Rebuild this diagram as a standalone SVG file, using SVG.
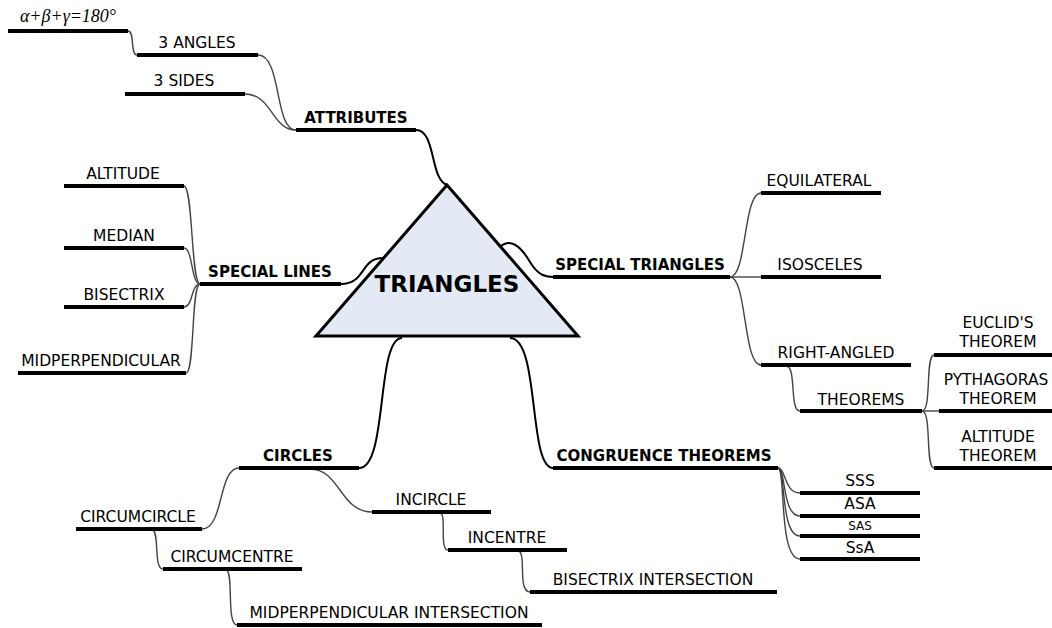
<svg xmlns="http://www.w3.org/2000/svg" width="1052" height="628" viewBox="0 0 1052 628">
<style>
.u{stroke:#000;stroke-width:4;stroke-linecap:butt}
.t{font-family:"DejaVu Sans","Liberation Sans",sans-serif;font-size:15.5px;fill:#000;text-anchor:middle}
.b{font-weight:bold;font-size:15px}
.c{fill:none;stroke:#444;stroke-width:1.4}
.m{fill:none;stroke:#000;stroke-width:2}
</style>
<rect width="1052" height="628" fill="#fff"/>
<g id="connectors">
<path class="c" d="M128,31 C135,31 130,55 137,55"/>
<path class="c" d="M258,55 C282,55 274,130 296,130"/>
<path class="c" d="M245,94 C272,94 272,130 296,130"/>
<path class="m" d="M416,130 C436,130 430,180 447,185"/>
<path class="m" d="M341,284 C366,284 360,258 383,258"/>
<path class="m" d="M500,247 C510,238 520,245 530,262 C538,275 545,277 553,277"/>
<path class="c" d="M200,284 C191,284 193,186 184,186"/>
<path class="c" d="M200,284 C191,284 193,248 184,248"/>
<path class="c" d="M200,284 C191,284 193,307 184,307"/>
<path class="c" d="M200,284 C191,284 195,373 186,373"/>
<path class="c" d="M730,277 C747,277 743,193 761,193"/>
<path class="c" d="M730,277 L761,277"/>
<path class="c" d="M730,277 C747,277 743,365 761,365"/>
<path class="c" d="M786,366 C797,366 789,411 800,411"/>
<path class="c" d="M922,411 C932,411 925,355 934,355"/>
<path class="c" d="M922,411 L939,411"/>
<path class="c" d="M922,411 C932,411 925,468 934,468"/>
<path class="m" d="M510,338 C540,338 528,468 553,468"/>
<path class="c" d="M778,468 C786,468 784,493 800,493"/>
<path class="c" d="M778,468 C786,468 782,516 800,516"/>
<path class="c" d="M778,468 C786,468 780,536 800,536"/>
<path class="c" d="M778,468 C786,468 778,559 800,559"/>
<path class="m" d="M402,338 C376,338 388,468 359,468"/>
<path class="c" d="M239,468 C218,468 224,529 202,529"/>
<path class="c" d="M310,469 C340,469 340,512 372,512"/>
<path class="c" d="M440,513 C447,513 439,550 448,550"/>
<path class="c" d="M518,551 C527,551 517,592 530,592"/>
<path class="c" d="M152,530 C160,530 153,569 163,569"/>
<path class="c" d="M226,570 C234,570 226,625 237,625"/>
</g>
<g id="root">
<polygon points="447,185 316,336 578,336" fill="#e3eaf6" stroke="#000" stroke-width="3" stroke-linejoin="miter"/>
<text class="t" x="447" y="292" style="font-size:23px;font-weight:bold">TRIANGLES</text>
</g>
<g id="angle-sum"><line class="u" x1="8" y1="31" x2="128" y2="31"/><text x="68" y="22" style="font-family:'Liberation Serif',serif;font-style:italic;font-size:18px;text-anchor:middle">α+β+γ=180°</text></g>
<g id="angles"><line class="u" x1="137" y1="55" x2="258" y2="55"/><text class="t" x="197" y="48">3 ANGLES</text></g>
<g id="sides"><line class="u" x1="125" y1="94" x2="245" y2="94"/><text class="t" x="184" y="86">3 SIDES</text></g>
<g id="attributes"><line class="u" x1="296" y1="130" x2="416" y2="130"/><text class="t b" x="356" y="123">ATTRIBUTES</text></g>
<g id="altitude"><line class="u" x1="64" y1="186" x2="184" y2="186"/><text class="t" x="123" y="179">ALTITUDE</text></g>
<g id="median"><line class="u" x1="64" y1="248" x2="184" y2="248"/><text class="t" x="124" y="241">MEDIAN</text></g>
<g id="bisectrix"><line class="u" x1="64" y1="307" x2="184" y2="307"/><text class="t" x="124" y="300">BISECTRIX</text></g>
<g id="midperpendicular"><line class="u" x1="18" y1="373" x2="186" y2="373"/><text class="t" x="101" y="366">MIDPERPENDICULAR</text></g>
<g id="special-lines"><line class="u" x1="200" y1="284" x2="341" y2="284"/><text class="t b" x="270" y="277">SPECIAL LINES</text></g>
<g id="special-triangles"><line class="u" x1="553" y1="277" x2="730" y2="277"/><text class="t b" x="640" y="270">SPECIAL TRIANGLES</text></g>
<g id="equilateral"><line class="u" x1="761" y1="193" x2="881" y2="193"/><text class="t" x="819" y="186">EQUILATERAL</text></g>
<g id="isosceles"><line class="u" x1="761" y1="277" x2="881" y2="277"/><text class="t" x="820" y="270">ISOSCELES</text></g>
<g id="right-angled"><line class="u" x1="761" y1="365" x2="911" y2="365"/><text class="t" x="836" y="358">RIGHT-ANGLED</text></g>
<g id="theorems"><line class="u" x1="800" y1="411" x2="922" y2="411"/><text class="t" x="861" y="405">THEOREMS</text></g>
<g id="euclid"><line class="u" x1="934" y1="355" x2="1052" y2="355"/><text class="t" x="998" y="328">EUCLID'S</text><text class="t" x="998" y="347">THEOREM</text></g>
<g id="pythagoras"><line class="u" x1="939" y1="411" x2="1052" y2="411"/><text class="t" x="996" y="385">PYTHAGORAS</text><text class="t" x="998" y="404">THEOREM</text></g>
<g id="altitude-theorem"><line class="u" x1="934" y1="468" x2="1052" y2="468"/><text class="t" x="998" y="442">ALTITUDE</text><text class="t" x="998" y="461">THEOREM</text></g>
<g id="congruence"><line class="u" x1="553" y1="468" x2="778" y2="468"/><text class="t b" x="664" y="461">CONGRUENCE THEOREMS</text></g>
<g id="sss"><line class="u" x1="800" y1="493" x2="920" y2="493"/><text class="t" x="860" y="486">SSS</text></g>
<g id="asa"><line class="u" x1="800" y1="516" x2="920" y2="516"/><text class="t" x="860" y="509">ASA</text></g>
<g id="sas"><line class="u" x1="800" y1="536" x2="920" y2="536"/><text class="t" x="860" y="530" style="font-size:12px">SAS</text></g>
<g id="ssa"><line class="u" x1="800" y1="559" x2="920" y2="559"/><text class="t" x="860" y="553">SsA</text></g>
<g id="circles"><line class="u" x1="239" y1="468" x2="359" y2="468"/><text class="t b" x="298" y="461">CIRCLES</text></g>
<g id="circumcircle"><line class="u" x1="76" y1="529" x2="202" y2="529"/><text class="t" x="138" y="522">CIRCUMCIRCLE</text></g>
<g id="circumcentre"><line class="u" x1="163" y1="569" x2="302" y2="569"/><text class="t" x="232" y="562">CIRCUMCENTRE</text></g>
<g id="midperp-intersection"><line class="u" x1="237" y1="625" x2="542" y2="625"/><text class="t" x="389" y="618">MIDPERPENDICULAR INTERSECTION</text></g>
<g id="incircle"><line class="u" x1="372" y1="512" x2="491" y2="512"/><text class="t" x="431" y="505">INCIRCLE</text></g>
<g id="incentre"><line class="u" x1="448" y1="550" x2="567" y2="550"/><text class="t" x="507" y="543">INCENTRE</text></g>
<g id="bisectrix-intersection"><line class="u" x1="530" y1="592" x2="777" y2="592"/><text class="t" x="653" y="585">BISECTRIX INTERSECTION</text></g>
</svg>
